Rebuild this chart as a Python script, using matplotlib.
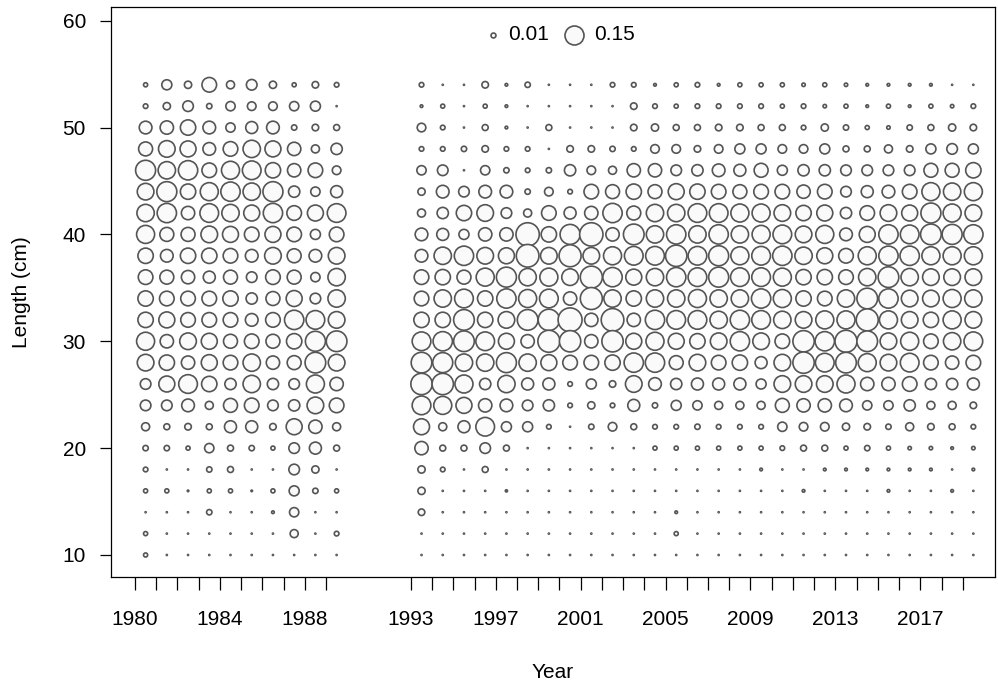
import numpy as np
import matplotlib.pyplot as plt

plt.rcParams['font.family'] = ['Liberation Sans', 'DejaVu Sans']

# length bins (cm), top row first
lengths = [54, 52, 50, 48, 46, 44, 42, 40, 38, 36, 34, 32,
           30, 28, 26, 24, 22, 20, 18, 16, 14, 12, 10]

years_early = list(range(1980, 1990))
years_late = list(range(1993, 2020))

# proportion at length, rows follow `lengths`, columns follow the years
props_early = [
    [0.007, 0.042, 0.022, 0.089, 0.027, 0.047, 0.022, 0.007, 0.018, 0.009],
    [0.009, 0.022, 0.047, 0.012, 0.036, 0.031, 0.031, 0.036, 0.042, 0.0],
    [0.067, 0.074, 0.098, 0.067, 0.036, 0.060, 0.067, 0.012, 0.018, 0.015],
    [0.081, 0.115, 0.106, 0.067, 0.089, 0.125, 0.106, 0.074, 0.027, 0.053],
    [0.166, 0.125, 0.155, 0.089, 0.135, 0.145, 0.098, 0.074, 0.089, 0.031],
    [0.115, 0.166, 0.098, 0.135, 0.155, 0.125, 0.166, 0.053, 0.036, 0.060],
    [0.125, 0.155, 0.074, 0.145, 0.125, 0.106, 0.155, 0.089, 0.106, 0.145],
    [0.135, 0.081, 0.081, 0.115, 0.106, 0.089, 0.106, 0.089, 0.042, 0.089],
    [0.098, 0.067, 0.098, 0.098, 0.089, 0.067, 0.115, 0.081, 0.067, 0.115],
    [0.089, 0.081, 0.074, 0.060, 0.081, 0.047, 0.089, 0.081, 0.036, 0.125],
    [0.098, 0.089, 0.089, 0.089, 0.098, 0.053, 0.081, 0.106, 0.047, 0.125],
    [0.098, 0.106, 0.089, 0.089, 0.089, 0.067, 0.089, 0.155, 0.145, 0.115],
    [0.135, 0.074, 0.115, 0.106, 0.081, 0.089, 0.081, 0.098, 0.166, 0.177],
    [0.115, 0.098, 0.074, 0.106, 0.089, 0.125, 0.074, 0.081, 0.177, 0.115],
    [0.047, 0.106, 0.145, 0.098, 0.053, 0.125, 0.053, 0.047, 0.135, 0.074],
    [0.047, 0.047, 0.067, 0.027, 0.081, 0.089, 0.047, 0.053, 0.115, 0.089],
    [0.027, 0.015, 0.018, 0.015, 0.060, 0.060, 0.018, 0.106, 0.074, 0.027],
    [0.012, 0.012, 0.007, 0.036, 0.015, 0.012, 0.007, 0.047, 0.060, 0.015],
    [0.009, 0.0, 0.0, 0.012, 0.015, 0.0, 0.0, 0.047, 0.022, 0.0],
    [0.007, 0.007, 0.001, 0.007, 0.007, 0.001, 0.007, 0.042, 0.012, 0.007],
    [0.0, 0.0, 0.0, 0.012, 0.0, 0.0, 0.003, 0.036, 0.0, 0.0],
    [0.007, 0.0, 0.0, 0.0, 0.0, 0.0, 0.0, 0.027, 0.0, 0.009],
    [0.007, 0.0, 0.0, 0.0, 0.0, 0.0, 0.0, 0.0, 0.0, 0.0],
]

props_late = [
    # 1993 ... 2001 | 2002 ... 2010 | 2011 ... 2019
    [0.009, 0.0, 0.0, 0.018, 0.003, 0.012, 0.0, 0.0, 0.0,
     0.009, 0.009, 0.003, 0.007, 0.009, 0.003, 0.007, 0.007, 0.007,
     0.005, 0.007, 0.005, 0.003, 0.003, 0.003, 0.003, 0.0, 0.0],
    [0.003, 0.007, 0.0, 0.007, 0.003, 0.0, 0.0, 0.0, 0.0,
     0.0, 0.018, 0.009, 0.007, 0.009, 0.009, 0.009, 0.009, 0.007,
     0.009, 0.005, 0.007, 0.003, 0.007, 0.003, 0.007, 0.005, 0.009],
    [0.031, 0.009, 0.0, 0.015, 0.003, 0.0, 0.015, 0.0, 0.0,
     0.0, 0.018, 0.022, 0.015, 0.015, 0.018, 0.018, 0.015, 0.015,
     0.009, 0.022, 0.012, 0.007, 0.005, 0.012, 0.015, 0.022, 0.018],
    [0.009, 0.009, 0.012, 0.018, 0.009, 0.009, 0.0, 0.018, 0.018,
     0.012, 0.009, 0.031, 0.031, 0.018, 0.031, 0.042, 0.042, 0.031,
     0.031, 0.042, 0.015, 0.015, 0.027, 0.018, 0.042, 0.047, 0.042],
    [0.036, 0.047, 0.0, 0.036, 0.012, 0.009, 0.012, 0.053, 0.031,
     0.027, 0.074, 0.074, 0.047, 0.053, 0.067, 0.060, 0.081, 0.042,
     0.053, 0.053, 0.047, 0.047, 0.047, 0.047, 0.081, 0.081, 0.098],
    [0.022, 0.067, 0.047, 0.067, 0.067, 0.012, 0.031, 0.009, 0.089,
     0.081, 0.098, 0.081, 0.106, 0.098, 0.089, 0.081, 0.089, 0.089,
     0.074, 0.089, 0.047, 0.060, 0.067, 0.089, 0.135, 0.125, 0.135],
    [0.027, 0.053, 0.098, 0.115, 0.047, 0.027, 0.089, 0.060, 0.074,
     0.155, 0.081, 0.125, 0.125, 0.145, 0.145, 0.135, 0.135, 0.115,
     0.098, 0.106, 0.053, 0.089, 0.115, 0.106, 0.166, 0.135, 0.115],
    [0.067, 0.060, 0.042, 0.074, 0.074, 0.226, 0.098, 0.166, 0.226,
     0.074, 0.177, 0.125, 0.155, 0.125, 0.155, 0.125, 0.135, 0.145,
     0.115, 0.135, 0.067, 0.106, 0.155, 0.145, 0.177, 0.166, 0.155],
    [0.067, 0.125, 0.155, 0.115, 0.106, 0.213, 0.115, 0.201, 0.115,
     0.135, 0.145, 0.145, 0.189, 0.145, 0.166, 0.135, 0.145, 0.155,
     0.125, 0.106, 0.089, 0.135, 0.155, 0.155, 0.135, 0.135, 0.135],
    [0.089, 0.098, 0.081, 0.135, 0.166, 0.125, 0.135, 0.115, 0.201,
     0.155, 0.106, 0.125, 0.155, 0.145, 0.166, 0.145, 0.145, 0.135,
     0.098, 0.098, 0.089, 0.125, 0.177, 0.125, 0.115, 0.115, 0.115],
    [0.089, 0.125, 0.145, 0.098, 0.155, 0.135, 0.145, 0.074, 0.201,
     0.125, 0.098, 0.125, 0.125, 0.135, 0.125, 0.125, 0.155, 0.135,
     0.098, 0.089, 0.125, 0.177, 0.155, 0.115, 0.115, 0.135, 0.125],
    [0.098, 0.098, 0.177, 0.098, 0.115, 0.177, 0.189, 0.239, 0.074,
     0.213, 0.074, 0.155, 0.145, 0.145, 0.125, 0.155, 0.145, 0.125,
     0.115, 0.135, 0.135, 0.201, 0.135, 0.115, 0.098, 0.135, 0.115],
    [0.145, 0.155, 0.177, 0.145, 0.106, 0.074, 0.201, 0.189, 0.074,
     0.189, 0.106, 0.135, 0.106, 0.098, 0.115, 0.155, 0.115, 0.089,
     0.189, 0.155, 0.201, 0.177, 0.115, 0.135, 0.089, 0.125, 0.145],
    [0.177, 0.166, 0.125, 0.125, 0.166, 0.125, 0.106, 0.089, 0.089,
     0.098, 0.155, 0.155, 0.081, 0.115, 0.089, 0.098, 0.060, 0.115,
     0.189, 0.145, 0.177, 0.135, 0.115, 0.145, 0.089, 0.074, 0.089],
    [0.189, 0.189, 0.135, 0.053, 0.125, 0.060, 0.060, 0.009, 0.042,
     0.018, 0.115, 0.067, 0.053, 0.060, 0.060, 0.060, 0.042, 0.115,
     0.115, 0.115, 0.135, 0.074, 0.074, 0.089, 0.053, 0.053, 0.060],
    [0.145, 0.135, 0.106, 0.074, 0.067, 0.047, 0.053, 0.009, 0.022,
     0.009, 0.060, 0.012, 0.042, 0.036, 0.027, 0.027, 0.027, 0.081,
     0.074, 0.074, 0.067, 0.036, 0.036, 0.053, 0.027, 0.027, 0.018],
    [0.106, 0.027, 0.060, 0.145, 0.042, 0.042, 0.009, 0.0, 0.012,
     0.031, 0.015, 0.009, 0.009, 0.012, 0.009, 0.009, 0.009, 0.036,
     0.031, 0.031, 0.022, 0.018, 0.012, 0.027, 0.018, 0.015, 0.009],
    [0.074, 0.015, 0.015, 0.047, 0.015, 0.0, 0.0, 0.0, 0.0,
     0.0, 0.0, 0.007, 0.007, 0.007, 0.007, 0.007, 0.007, 0.009,
     0.015, 0.015, 0.007, 0.012, 0.007, 0.005, 0.005, 0.003, 0.005],
    [0.022, 0.009, 0.0, 0.015, 0.0, 0.0, 0.0, 0.0, 0.0,
     0.0, 0.0, 0.0, 0.0, 0.0, 0.0, 0.0, 0.003, 0.0,
     0.0, 0.003, 0.003, 0.003, 0.003, 0.003, 0.003, 0.0, 0.003],
    [0.022, 0.0, 0.0, 0.0, 0.002, 0.0, 0.0, 0.0, 0.0,
     0.0, 0.0, 0.0, 0.0, 0.0, 0.0, 0.0, 0.0, 0.0,
     0.003, 0.0, 0.0, 0.0, 0.003, 0.0, 0.0, 0.003, 0.0],
    [0.018, 0.0, 0.0, 0.0, 0.0, 0.0, 0.0, 0.0, 0.0,
     0.0, 0.0, 0.0, 0.003, 0.0, 0.0, 0.0, 0.0, 0.0,
     0.0, 0.0, 0.0, 0.0, 0.0, 0.0, 0.0, 0.0, 0.0],
    [0.0, 0.0, 0.0, 0.0, 0.0, 0.0, 0.0, 0.0, 0.0,
     0.0, 0.0, 0.0, 0.007, 0.0, 0.0, 0.0, 0.0, 0.0,
     0.0, 0.0, 0.0, 0.0, 0.0, 0.0, 0.0, 0.0, 0.0],
    [0.0, 0.0, 0.0, 0.0, 0.0, 0.0, 0.0, 0.0, 0.0,
     0.0, 0.0, 0.0, 0.0, 0.0, 0.0, 0.0, 0.0, 0.0,
     0.0, 0.0, 0.0, 0.0, 0.0, 0.0, 0.0, 0.0, 0.0],
]

legend_values = [0.01, 0.15]
year_labels = [1980, 1984, 1988, 1993, 1997, 2001, 2005, 2009, 2013, 2017]

EDGE = '#555555'
FACE = '#fafafa'
# marker area (pt^2) per unit proportion: 0.15 -> ~19 px across
SCALE = (19 * 0.72) ** 2 / 0.15


def bubble_sizes(vals):
    vals = np.asarray(vals, dtype=float)
    # zero proportions still show as a dot
    return np.where(vals > 0, vals * SCALE, 0.6)


fig = plt.figure(figsize=(9.98, 6.86), dpi=100)
ax = fig.add_axes([111 / 998, 1 - 577 / 686, (995 - 111) / 998, (577 - 7) / 686])

for yrs, props in [(years_early, props_early), (years_late, props_late)]:
    P = np.asarray(props)
    X, Y = np.meshgrid(np.asarray(yrs) + 0.5, lengths)
    ax.scatter(X.ravel(), Y.ravel(), s=bubble_sizes(P.ravel()),
               facecolor=FACE, edgecolor=EDGE, linewidth=1.2, zorder=3)

# size key
key_x = [0.432, 0.524]
text_x = [0.449, 0.546]
for v, kx, tx in zip(legend_values, key_x, text_x):
    ax.scatter([kx], [0.951], s=bubble_sizes([v]), transform=ax.transAxes,
               facecolor=FACE, edgecolor=EDGE, linewidth=1.2, clip_on=False)
    ax.text(tx, 0.951, f'{v:.2f}', transform=ax.transAxes, fontsize=15,
            va='center', ha='left')

ax.set_xlim(1978.87, 2020.52)
ax.set_ylim(7.94, 61.28)

ax.set_xticks(years_early + years_late)
ax.set_xticklabels([str(y) if y in year_labels else '' for y in years_early + years_late])
ax.set_yticks([10, 20, 30, 40, 50, 60])

ax.tick_params(axis='x', length=9.5, width=0.9, labelsize=15, pad=14)
ax.tick_params(axis='y', length=8, width=0.9, labelsize=15, pad=10)
for sp in ax.spines.values():
    sp.set_linewidth(0.9)

fig.text(553 / 998, 1 - 672 / 686, 'Year', fontsize=15, ha='center', va='center')
fig.text(22 / 998, 1 - 292 / 686, 'Length (cm)', fontsize=15, ha='center',
         va='center', rotation=90)

fig.savefig('out.png', dpi=100)
